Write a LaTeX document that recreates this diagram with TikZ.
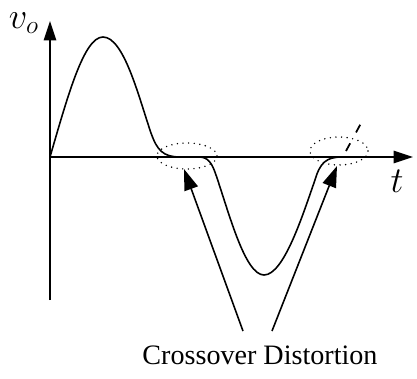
\documentclass[tikz,border=0pt]{standalone}
\usepackage{fontspec}
\setmainfont{Liberation Serif}
\usetikzlibrary{arrows.meta, positioning}

\begin{document}
\begin{tikzpicture}[
    x=0.02cm, y=-0.02cm,
    axis/.style={line width=0.9pt, -{Triangle[length=11pt, width=7pt]}},
    wave/.style={line width=0.9pt, line join=round},
    pointer/.style={line width=0.9pt, -{Triangle[length=12pt, width=8pt]}},
    zone/.style={line width=0.9pt, line cap=round, dash pattern=on 0pt off 3.2pt},
    axlabel/.style={font=\fontsize{21}{24}\selectfont, inner sep=1pt}
]
\useasboundingbox (0,0) rectangle (417,379);

% Axes
\coordinate (origin) at (50,157);
\coordinate (ytop) at (50,21);
\coordinate (ybot) at (50,300);
\coordinate (xend) at (413,157);
\draw[axis] (ybot) -- (ytop);
\draw[axis] (origin) -- (xend);
\node[axlabel] (vo) at (24,23) {$v_o$};
\node[axlabel] (tlab) at (397,181) {$t$};

% Output waveform
\draw[wave] (origin) .. controls (68,95) and (84,37) .. (103,37)
    .. controls (124,37) and (139,98) .. (151,133)
    .. controls (157,150) and (163,157) .. (180,157) -- (199,157)
    .. controls (208,157) and (212,163) .. (216,175)
    .. controls (229,213) and (245,275) .. (264,275)
    .. controls (284,275) and (303,214) .. (315,180)
    .. controls (320,163) and (326,157) .. (342,157);
\draw[line width=1pt, dash pattern=on 5pt off 7pt] (346,151) -- (366,114);

% Distortion regions
\draw[zone] (187,156) ellipse (30 and 13);
\draw[zone] (339,151) ellipse (29 and 14);

% Label and pointers
\node[font=\fontsize{16}{18}\selectfont] (note) at (260,355) {Crossover Distortion};
\coordinate (tipL) at (184,169);
\coordinate (tipR) at (337,166);
\draw[pointer] (243,331) -- (tipL);
\draw[pointer] (272,331) -- (tipR);
\end{tikzpicture}
\end{document}
